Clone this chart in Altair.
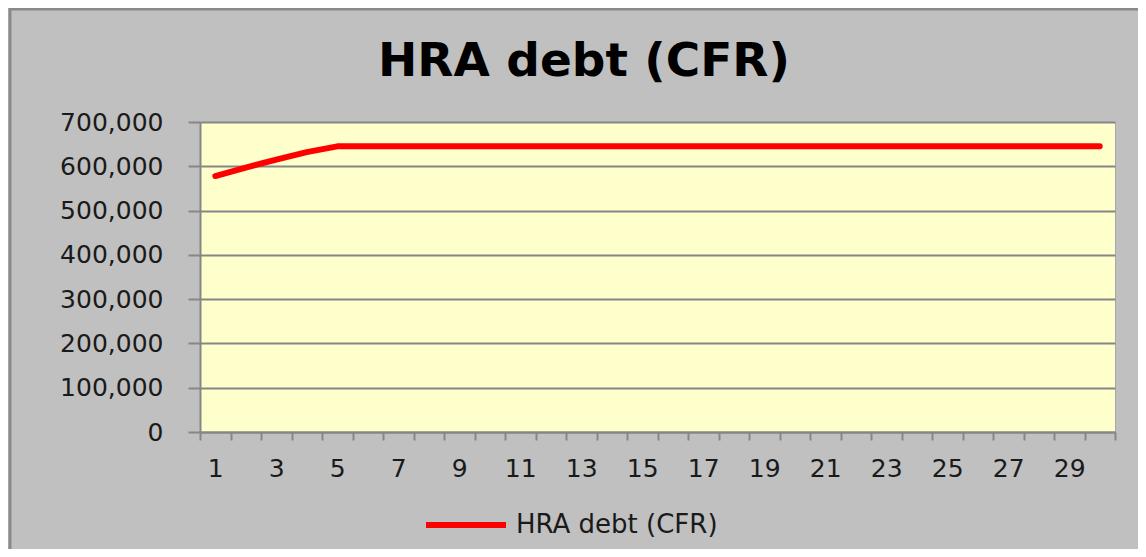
import altair as alt
import pandas as pd

# ---- data ----
periods = list(range(1, 31))
debt = [578000, 597000, 615000, 632000, 645000,
        645000, 645000, 645000, 645000, 645000,
        645000, 645000, 645000, 645000, 645000,
        645000, 645000, 645000, 645000, 645000,
        645000, 645000, 645000, 645000, 645000,
        645000, 645000, 645000, 645000, 645000]
series_name = "HRA debt (CFR)"
title_text = "HRA debt (CFR)"
y_ticks = [0, 100000, 200000, 300000, 400000, 500000, 600000, 700000]

df = pd.DataFrame({"Year": periods, "Debt": debt, "Series": [series_name] * len(periods)})

FONT = "DejaVu Sans"
GRID = "#868686"
TXT = "#1a1a1a"

line = alt.Chart(df).mark_line(strokeWidth=6, strokeCap="round", strokeJoin="round").encode(
    x=alt.X(
        "Year:O",
        scale=alt.Scale(type="band", paddingInner=0, paddingOuter=0),
        bandPosition=0.5,
        axis=alt.Axis(
            title=None, labelAngle=0, tickBand="extent", tickSize=8,
            labelExpr="datum.value % 2 == 1 ? datum.label : ''",
            labelPadding=16, grid=False,
        ),
    ),
    y=alt.Y(
        "Debt:Q",
        scale=alt.Scale(domain=[0, 700000], nice=False, zero=True),
        axis=alt.Axis(title=None, values=y_ticks, format=",.0f", tickSize=12,
                      labelPadding=25, grid=True),
    ),
    color=alt.Color(
        "Series:N",
        scale=alt.Scale(range=["#ff0000"]),
        legend=alt.Legend(
            title=None, orient="none", legendX=223, legendY=360,
            symbolType="stroke", symbolSize=6400, symbolStrokeWidth=6,
            labelFontSize=26, labelFont=FONT, labelColor=TXT, labelOffset=7,
            labelLimit=500,
        ),
    ),
)

title = alt.Chart(pd.DataFrame({"t": [title_text]})).mark_text(
    font=FONT, fontSize=47, fontWeight="bold", align="center", baseline="alphabetic", color="#000000"
).encode(text="t:N", x=alt.value(384), y=alt.value(-46))

border_left = alt.Chart(pd.DataFrame({"a": [0]})).mark_rule(color="#8a8a8a", strokeWidth=3).encode(
    x=alt.value(-190), y=alt.value(-114), y2=alt.value(440)
)
border_top = alt.Chart(pd.DataFrame({"a": [0]})).mark_rule(color="#8a8a8a", strokeWidth=3).encode(
    x=alt.value(-191), x2=alt.value(946), y=alt.value(-113)
)

chart = alt.layer(border_left, border_top, line, title).properties(
    width=915, height=310,
    autosize=alt.AutoSizeParams(type="none"),
    padding={"left": 192, "top": 114, "right": 23, "bottom": 117},
    background="#c0c0c0",
).configure_view(
    fill="#ffffcc", stroke="#a8a8a8", strokeWidth=1
).configure_axis(
    labelFont=FONT, labelFontSize=25, labelColor=TXT,
    domainColor=GRID, domainWidth=2, tickColor=GRID, tickWidth=2,
    gridColor=GRID, gridWidth=2,
)

chart.save("out.html", embed_options={"renderer": "svg", "actions": False})
